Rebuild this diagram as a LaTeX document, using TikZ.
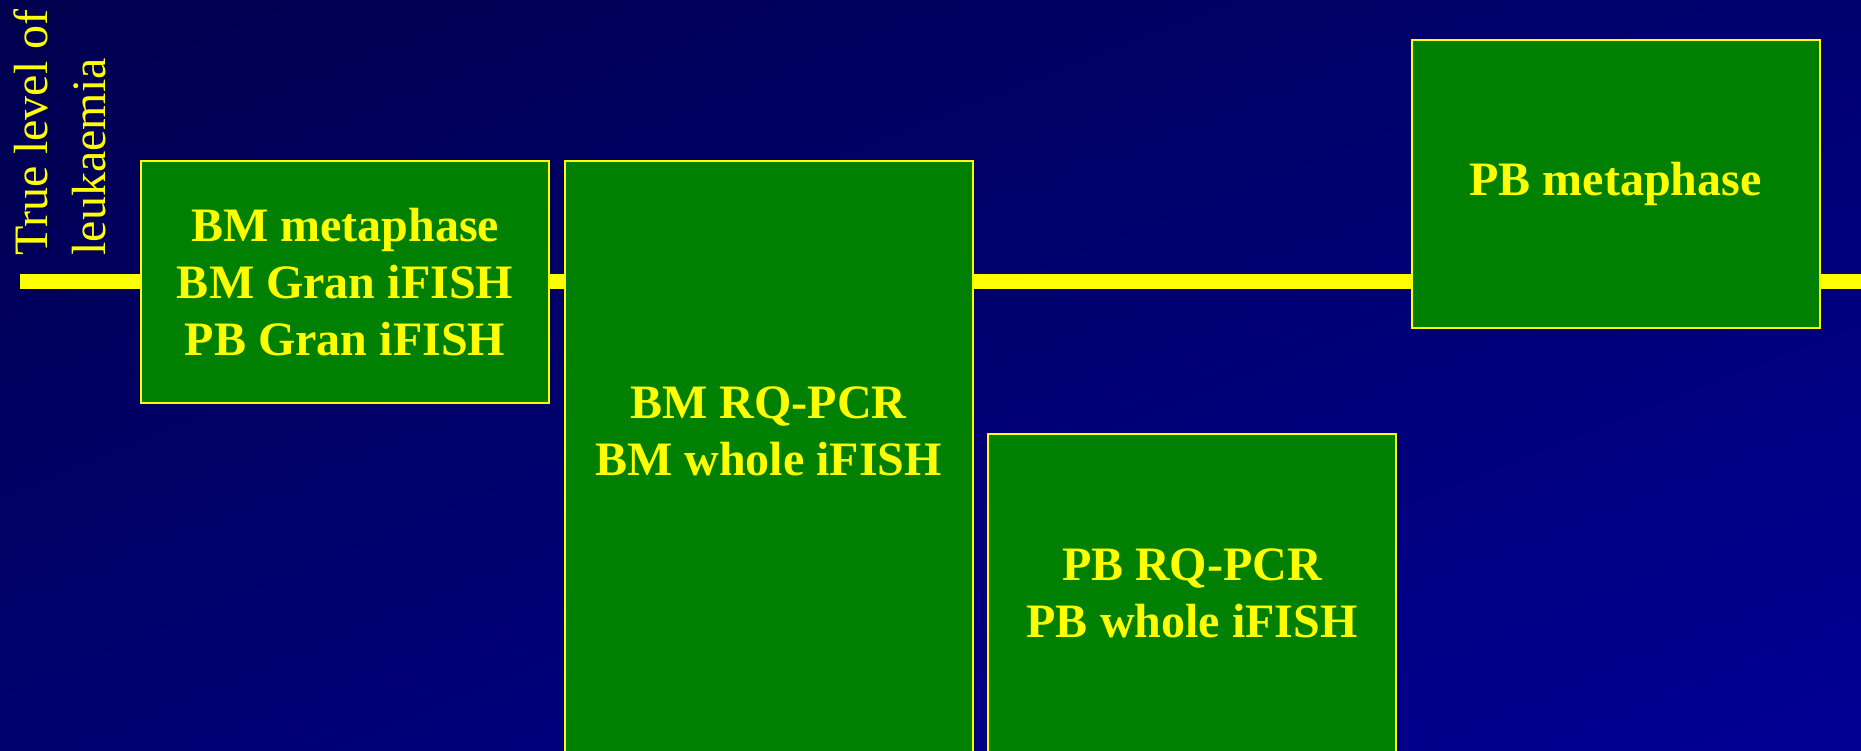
\documentclass[tikz,border=0pt]{standalone}
\usepackage{fontspec}
\setmainfont{Liberation Serif}
\usetikzlibrary{shadings}
\definecolor{slidetop}{RGB}{0,0,78}
\definecolor{slidemid}{RGB}{0,0,112}
\definecolor{slidebottom}{RGB}{0,0,148}
\definecolor{boxgreen}{RGB}{0,128,0}
\definecolor{textyellow}{RGB}{255,255,0}
\begin{document}
\begin{tikzpicture}[x=0.5pt, y=-0.5pt,
		box/.style={draw=textyellow, fill=boxgreen, line width=1pt, inner sep=0pt, minimum width=204pt,
			text=textyellow, font=\fontsize{24}{28.5}\selectfont\bfseries, align=center},
		boxtext/.style={text=textyellow, font=\fontsize{24}{28.5}\selectfont\bfseries, align=center, inner sep=0pt},
		level/.style={draw=textyellow, line width=7.5pt}]
		\useasboundingbox (0,0) rectangle (1861,750);
		\clip (0,0) rectangle (1861,750);
		\shade[upper left=slidetop, upper right=slidemid, lower left=slidemid, lower right=slidebottom] (0,0) rectangle (1861,750);
		% Level line
		\coordinate (LevelStart) at (20,281);
		\coordinate (LevelEnd) at (1870,281);
		\draw[level] (LevelStart) -- (LevelEnd);
		\node[text=textyellow, font=\fontsize{24}{29}\selectfont, rotate=90, anchor=north west, align=left, inner sep=0pt] (True level) at (13,256) {True level of\\leukaemia};
		% Boxes
		\node[box, minimum height=121pt] (BM metaphase) at (345,282) {BM metaphase\\BM Gran iFISH\\PB Gran iFISH};
		\node[box, minimum height=319.5pt] (BM PCR) at (768.5,480.5) {};
		\node[boxtext] (BM PCR text) at (768.5,431) {BM RQ-PCR\\BM whole iFISH};
		\node[box, minimum height=183pt] (PB PCR) at (1191.75,617) {};
		\node[boxtext] (PB PCR text) at (1192,593) {PB RQ-PCR\\PB whole iFISH};
		\node[box, minimum height=143.75pt] (PB metaphase) at (1615.5,183.75) {PB metaphase};
	\end{tikzpicture}
\end{document}
